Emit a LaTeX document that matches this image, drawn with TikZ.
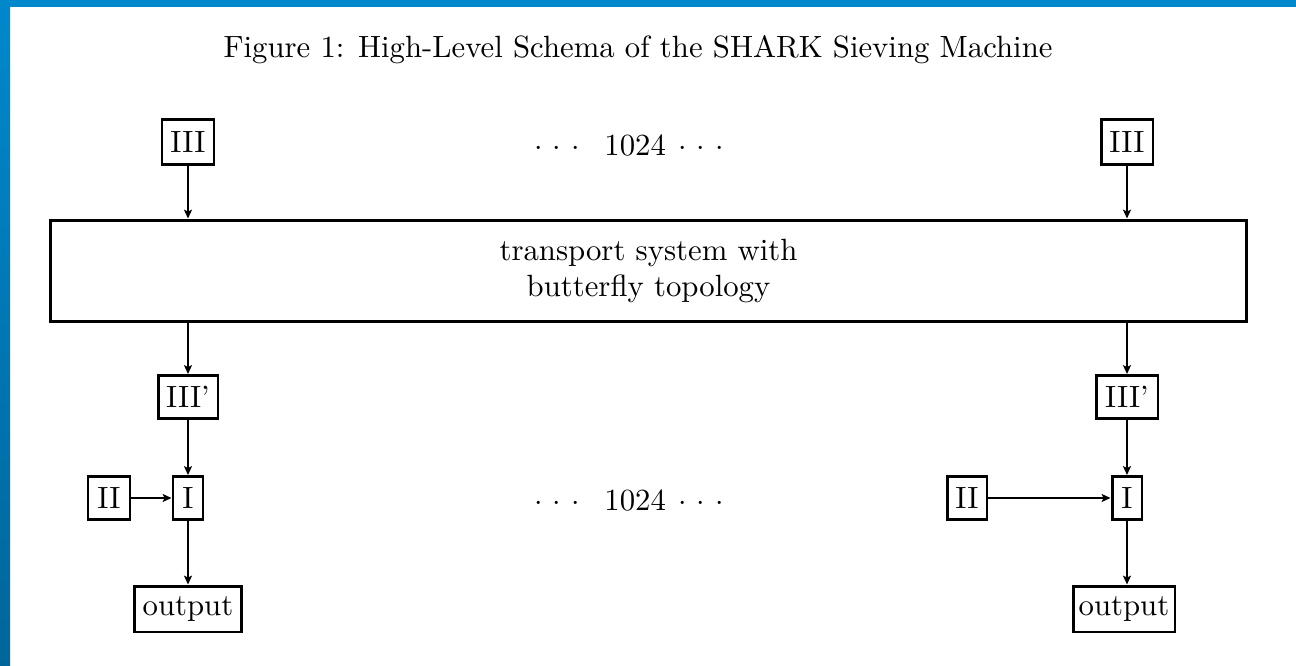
\documentclass[tikz,border=0pt]{standalone}
\usepackage{fontspec}
\setmainfont{lmroman10-regular.otf}
\usetikzlibrary{arrows.meta}
\definecolor{barblue}{HTML}{0088CC}
\definecolor{barblued}{HTML}{00669A}
\newcommand{\dotsrow}{$\cdot$\ $\cdot$\ $\cdot$\hspace{0.8em}1024\hspace{0.4em}$\cdot$\ $\cdot$\ $\cdot$}
\begin{document}
\begin{tikzpicture}[x=0.02cm,y=-0.02cm,
  txt/.style={font=\fontsize{17.5}{21}\selectfont},
  box/.style={draw,line width=1.7pt,inner sep=0pt,txt},
  arr/.style={line width=1.5pt,-{Stealth[length=5pt,width=4.5pt,inset=1pt]}}]
\useasboundingbox (0,0) rectangle (1296,666);
\fill[white] (0,0) rectangle (1296,666);
\fill[barblue] (0,0) rectangle (1296,7);
\shade[top color=barblue,bottom color=barblued] (0,0) rectangle (10,666);
\node[txt] (title) at (638,50) {Figure 1: High-Level Schema of the SHARK Sieving Machine};
\node[txt] (dotsA) at (629,145) {\dotsrow};
\node[txt] (dotsB) at (629,500) {\dotsrow};
\node[box,minimum width=23.94cm,minimum height=2.04cm,align=center] (big) at (648.5,271) {transport system with\\butterfly topology};
% left column
\node[box,minimum width=1.04cm,minimum height=0.9cm] (IIIa) at (188,142) {III};
\node[box,minimum width=1.2cm,minimum height=0.86cm] (IIIpa) at (188,397) {III'};
\node[box,minimum width=0.6cm,minimum height=0.86cm] (Ia) at (188,498) {I};
\node[box,minimum width=0.84cm,minimum height=0.86cm] (IIa) at (109,498) {II};
\node[box,minimum width=2.14cm,minimum height=0.92cm] (outa) at (188,609) {output};
% right column
\node[box,minimum width=1.04cm,minimum height=0.9cm] (IIIb) at (1127,142) {III};
\node[box,minimum width=1.24cm,minimum height=0.86cm] (IIIpb) at (1127,397) {III'};
\node[box,minimum width=0.6cm,minimum height=0.86cm] (Ib) at (1127,498) {I};
\node[box,minimum width=0.8cm,minimum height=0.86cm] (IIb) at (967,498) {II};
\node[box,minimum width=2.04cm,minimum height=0.92cm] (outb) at (1124,609) {output};
% arrows
\draw[arr] (IIIa.south) -- (IIIa.south |- big.north);
\draw[arr] (IIIpa.north |- big.south) -- (IIIpa.north);
\draw[arr] (IIIpa) -- (Ia);
\draw[arr] (IIa) -- (Ia);
\draw[arr] (Ia) -- (Ia |- outa.north);
\draw[arr] (IIIb.south) -- (IIIb.south |- big.north);
\draw[arr] (IIIpb.north |- big.south) -- (IIIpb.north);
\draw[arr] (IIIpb) -- (Ib);
\draw[arr] (IIb) -- (Ib);
\draw[arr] (Ib) -- (Ib |- outb.north);
\end{tikzpicture}
\end{document}
